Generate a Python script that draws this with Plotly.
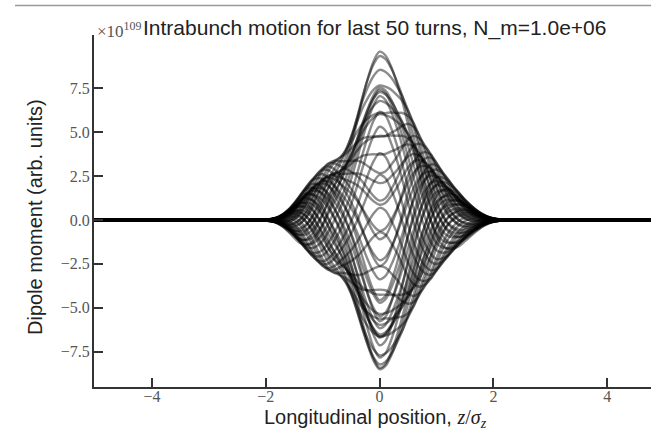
import numpy as np
import plotly.graph_objects as go

# Longitudinal sample positions along the bunch, in units of sigma_z
z_nodes = np.round(np.arange(-2.2, 2.41, 0.1), 1)

# Mode envelope |A(z)| (units of 1e109) at each sample position
envelope = [0.00, 0.01, 0.03, 0.08, 0.18, 0.38, 0.68, 1.08, 1.55, 2.02,
            2.45, 2.82, 3.15, 3.40, 3.55, 3.70, 4.10, 4.85, 5.90, 7.10,
            8.20, 9.10, 9.60, 9.40, 8.80, 8.00, 7.20, 6.40, 5.70, 5.00,
            4.45, 4.00, 3.50, 3.00, 2.55, 2.10, 1.70, 1.30, 0.95, 0.65,
            0.40, 0.22, 0.11, 0.05, 0.02, 0.00, 0.00]

# Mode phase arg A(z) in degrees at each sample position
phase_deg = [230, 222, 215, 205, 195, 184, 172, 160, 148, 135,
             122, 108, 95, 81, 68, 55, 42, 30, 20, 12,
             6, 2, 0, 1, 5, 11, 20, 32, 45, 60,
             75, 90, 105, 118, 130, 140, 150, 158, 165, 170,
             175, 179, 182, 184, 186, 187, 188]

# Per-turn oscillation phase (degrees) and relative amplitude, last 50 turns
turn_phase = [131, 145, 155, 169, 181, 190, 205, 217, 227, 241,
              251, 265, 277, 287, 301, 311, 325, 336, 347, 1,
              13, 23, 37, 47, 61, 71, 85, 95, 109, 119,
              133, 143, 157, 167, 181, 191, 205, 215, 229, 239,
              253, 263, 277, 287, 301, 311, 325, 335, 349, 0]
turn_amp = [0.676, 0.681, 0.687, 0.692, 0.698, 0.703, 0.709, 0.715, 0.720, 0.726,
            0.732, 0.738, 0.744, 0.750, 0.756, 0.762, 0.768, 0.774, 0.780, 0.787,
            0.793, 0.799, 0.806, 0.812, 0.819, 0.825, 0.832, 0.839, 0.845, 0.852,
            0.859, 0.866, 0.873, 0.880, 0.887, 0.894, 0.901, 0.908, 0.916, 0.923,
            0.930, 0.938, 0.945, 0.953, 0.961, 0.969, 0.976, 0.984, 0.992, 1.000]

x_ticks = [-4, -2, 0, 2, 4]
x_ticktext = ["\u22124", "\u22122", "0", "2", "4"]
y_ticks = [-7.5, -5.0, -2.5, 0.0, 2.5, 5.0, 7.5]
y_ticktext = ["\u22127.5", "\u22125.0", "\u22122.5", "0.0", "2.5", "5.0", "7.5"]

env = np.array(envelope)
theta = np.radians(np.array(phase_deg))
z_full = np.concatenate([[-5.2], z_nodes, [5.2]])

fig = go.Figure()
for amp, ph in zip(turn_amp, turn_phase):
    dip = amp * env * np.cos(np.radians(ph) + theta)
    y_full = np.concatenate([[0.0], dip, [0.0]])
    fig.add_trace(go.Scatter(
        x=z_full, y=y_full, mode="lines",
        line=dict(color="rgba(0,0,0,0.45)", width=2.4, shape="spline", smoothing=1.0),
        hoverinfo="skip", showlegend=False))

W, H = 651, 432
L, R, T, B = 94, 0, 35, 45
pw, ph_ = W - L - R, H - T - B


def px(x):
    return (x - L) / pw


def py(y):
    return (H - B - y) / ph_


axis_common = dict(showgrid=False, zeroline=False, showline=True, linecolor="#333",
                   linewidth=2, ticks="inside", ticklen=9, tickwidth=2, tickcolor="#333",
                   tickfont=dict(family="Liberation Serif", size=16, color="#555"), mirror=False)

fig.update_layout(
    width=W, height=H, margin=dict(l=L, r=R, t=T, b=B),
    paper_bgcolor="white", plot_bgcolor="white",
    xaxis=dict(range=[-5.02, 4.77], tickvals=x_ticks, ticktext=x_ticktext,
               ticklabelstandoff=-6, **axis_common),
    yaxis=dict(range=[-9.52, 10.55], tickvals=y_ticks, ticktext=y_ticktext,
               ticklabelstandoff=-1, **axis_common),
    font=dict(family="Liberation Sans", color="#222"),
)

sans = dict(family="Liberation Sans", size=20, color="#222")
fig.add_annotation(x=px(95), y=py(30), xref="paper", yref="paper", xanchor="left",
                   yanchor="middle", showarrow=False, text="\u00d710<sup>109</sup>",
                   font=dict(family="Liberation Serif", size=17, color="#555"))
fig.add_annotation(x=px(141), y=py(28), xref="paper", yref="paper", xanchor="left",
                   yanchor="middle", showarrow=False,
                   text="Intrabunch motion for last 50 turns, N_m=1.0e+06",
                   font=dict(family="Liberation Sans", size=21, color="#222"))
fig.add_annotation(x=px(35), y=py(217), xref="paper", yref="paper", xanchor="center",
                   yanchor="middle", showarrow=False, textangle=-90,
                   text="Dipole moment (arb. units)", font=sans)
fig.add_annotation(x=px(375), y=py(418), xref="paper", yref="paper", xanchor="center",
                   yanchor="middle", showarrow=False,
                   text="Longitudinal position, <span style='font-family:Liberation Serif'>"
                        "<i>z</i>/<i>\u03c3</i><sub><i>z</i></sub></span>",
                   font=sans)
fig.add_shape(type="line", xref="paper", yref="paper", x0=px(15), x1=1.0,
              y0=py(5.5), y1=py(5.5), line=dict(color="#999", width=1.5))

fig.write_html("out.html")
